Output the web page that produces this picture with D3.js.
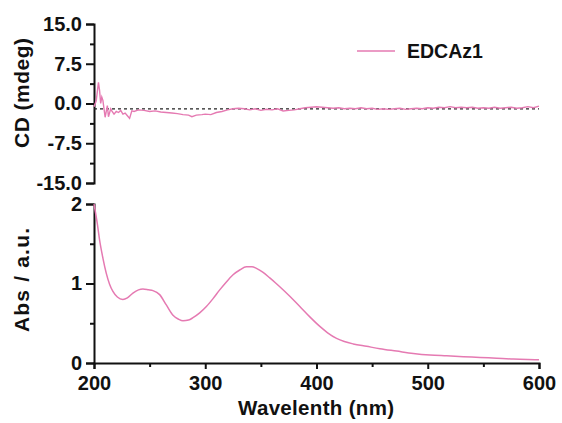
<!DOCTYPE html>
<html>
<head>
<meta charset="utf-8">
<script src="https://cdn.jsdelivr.net/npm/d3@7"></script>
<style>
  body { margin: 0; background: #fff; }
  svg text { font-family: "Liberation Sans", Arial, sans-serif; font-weight: bold; fill: #111; }
</style>
</head>
<body>
<div id="plot"></div>
<script>
// CD spectrum (mdeg) vs wavelength (nm)
const cdWavelength = [200, 202, 204, 205, 206, 207, 208, 210, 212, 213, 215, 216, 218, 220, 222, 224, 226, 228, 230, 232, 234, 236,
  240, 245, 250, 255, 260, 265, 270, 275, 280, 285, 288, 292, 297, 300, 305, 310, 315, 320, 325, 330, 335, 340, 345, 350,
  355, 360, 365, 370, 375, 380, 385, 390, 395, 400, 405, 410, 415, 420, 425, 430, 435, 440, 445, 450, 455, 460, 465, 470,
  475, 480, 485, 490, 495, 500, 505, 510, 515, 520, 525, 530, 535, 540, 545, 550, 555, 560, 565, 570, 575, 580, 585, 590, 595, 600];
const cdValues = [-0.6, 0.5, 4.0, 2.5, 0.0, 1.2, 0.6, -2.6, -0.4, -2.5, -1.0, -1.4, -2.0, -1.5, -1.7, -1.3, -2.0, -1.8, -2.3, -2.8, -1.4, -1.5,
  -1.2, -1.3, -1.5, -1.4, -1.6, -1.7, -1.8, -1.9, -2.1, -2.2, -2.5, -2.2, -2.1, -2.0, -2.1, -1.7, -1.5, -1.2, -1.0, -0.9, -1.0, -1.2, -1.0, -1.3,
  -1.1, -1.2, -1.0, -1.4, -1.3, -1.2, -1.0, -0.8, -0.7, -0.6, -0.7, -0.8, -0.9, -0.8, -1.0, -0.9, -1.0, -0.8, -1.0, -0.9, -1.1, -1.0, -1.1, -1.0,
  -0.9, -1.1, -1.0, -0.9, -1.0, -0.8, -0.9, -0.7, -0.8, -0.6, -0.8, -0.7, -0.8, -0.7, -0.9, -0.8, -0.9, -0.7, -0.9, -0.8, -0.7, -0.9, -0.8, -0.6, -0.8, -0.5];
const cdBaseline = -1.0;

// absorbance spectrum
const absWavelength = [200, 203, 205, 208, 211, 214, 217, 221, 226, 230, 235, 240, 244, 249, 253, 259, 265, 271, 276, 280, 285, 289,
  295, 301, 307, 313, 319, 325, 331, 337, 342, 346, 352, 358, 363, 367, 376, 385, 394, 403, 410, 418, 425, 433, 445, 457,
  472, 487, 502, 517, 532, 547, 562, 577, 590, 600];
const absValues = [2.0, 1.75, 1.55, 1.32, 1.13, 0.99, 0.90, 0.83, 0.80, 0.82, 0.88, 0.92, 0.93, 0.92, 0.91, 0.86, 0.73, 0.60, 0.55, 0.53, 0.54, 0.57,
  0.63, 0.71, 0.81, 0.92, 1.02, 1.11, 1.17, 1.21, 1.21, 1.19, 1.14, 1.07, 1.01, 0.96, 0.84, 0.71, 0.58, 0.46, 0.38, 0.31, 0.27, 0.24, 0.21, 0.18,
  0.15, 0.12, 0.10, 0.09, 0.08, 0.07, 0.06, 0.05, 0.045, 0.04];

const xTicks = [200, 300, 400, 500, 600];
const xMinor = [250, 350, 450, 550];
const cdTicks = [15, 7.5, 0, -7.5, -15];
const cdMinor = [11.25, 3.75, -3.75, -11.25];
const absTicks = [0, 1, 2];
const absMinor = [0.5, 1.5];
const seriesName = "EDCAz1";
const color = "#e57ab2";

const W = 562, H = 423;
const svg = d3.select("#plot").append("svg").attr("width", W).attr("height", H);

const x = d3.scaleLinear().domain([200, 600]).range([94, 539]);
const yCD = d3.scaleLinear().domain([-15, 15]).range([183, 24]);
const yAbs = d3.scaleLinear().domain([0, 2]).range([363, 204]);

function styleAxis(g) {
  g.select(".domain").attr("stroke", "#111").attr("stroke-width", 2);
  g.selectAll(".tick line").attr("stroke", "#111").attr("stroke-width", 2);
  g.selectAll(".tick text").attr("font-size", 20);
}
function minorStyle(g) {
  g.select(".domain").remove();
  g.selectAll("line").attr("stroke", "#111").attr("stroke-width", 2);
}

// top panel y axis
const cdAxis = svg.append("g").attr("transform", "translate(94,0)")
  .call(d3.axisLeft(yCD).tickValues(cdTicks).tickFormat(d => d.toFixed(1)).tickSizeOuter(0).tickSize(8).tickPadding(4));
styleAxis(cdAxis);
svg.append("g").attr("transform", "translate(94,0)")
  .call(d3.axisLeft(yCD).tickValues(cdMinor).tickFormat("").tickSize(4).tickSizeOuter(0))
  .call(minorStyle);

// bottom panel axes
const absAxis = svg.append("g").attr("transform", "translate(94,0)")
  .call(d3.axisLeft(yAbs).tickValues(absTicks).tickFormat(d3.format("d")).tickSizeOuter(0).tickSize(8).tickPadding(4));
styleAxis(absAxis);
svg.append("g").attr("transform", "translate(94,0)")
  .call(d3.axisLeft(yAbs).tickValues(absMinor).tickFormat("").tickSize(4).tickSizeOuter(0))
  .call(minorStyle);

const xAxis = svg.append("g").attr("transform", "translate(0,363)")
  .call(d3.axisBottom(x).tickValues(xTicks).tickFormat(d3.format("d")).tickSizeOuter(0).tickSize(6).tickPadding(7));
styleAxis(xAxis);
svg.append("g").attr("transform", "translate(0,363)")
  .call(d3.axisBottom(x).tickValues(xMinor).tickFormat("").tickSize(4).tickSizeOuter(0))
  .call(minorStyle);

// dashed baseline
svg.append("line")
  .attr("x1", x(200)).attr("x2", x(600))
  .attr("y1", yCD(cdBaseline)).attr("y2", yCD(cdBaseline))
  .attr("stroke", "#222").attr("stroke-width", 1.2).attr("stroke-dasharray", "3,3");

const cdData = cdWavelength.map((w, i) => [w, cdValues[i]]);
const absData = absWavelength.map((w, i) => [w, absValues[i]]);

svg.append("path").datum(cdData)
  .attr("fill", "none").attr("stroke", color).attr("stroke-width", 1.4)
  .attr("d", d3.line().x(d => x(d[0])).y(d => yCD(d[1])));

svg.append("path").datum(absData)
  .attr("fill", "none").attr("stroke", color).attr("stroke-width", 1.5)
  .attr("d", d3.line().curve(d3.curveMonotoneX).x(d => x(d[0])).y(d => yAbs(d[1])));

// axis titles
svg.append("text").attr("transform", "translate(29,93) rotate(-90)")
  .attr("text-anchor", "middle").attr("font-size", 21)
  .attr("textLength", 110).attr("lengthAdjust", "spacing").text("CD (mdeg)");
svg.append("text").attr("transform", "translate(29,280) rotate(-90)")
  .attr("text-anchor", "middle").attr("font-size", 21)
  .attr("textLength", 104).attr("lengthAdjust", "spacing").text("Abs / a.u.");
svg.append("text").attr("x", 316).attr("y", 415)
  .attr("text-anchor", "middle").attr("font-size", 20.5)
  .attr("textLength", 156).attr("lengthAdjust", "spacing").text("Wavelenth (nm)");

// legend
svg.append("line").attr("x1", 357).attr("x2", 395).attr("y1", 51).attr("y2", 51)
  .attr("stroke", color).attr("stroke-width", 1.5);
svg.append("text").attr("x", 407).attr("y", 58).attr("font-size", 19.5).text(seriesName);
</script>
</body>
</html>
